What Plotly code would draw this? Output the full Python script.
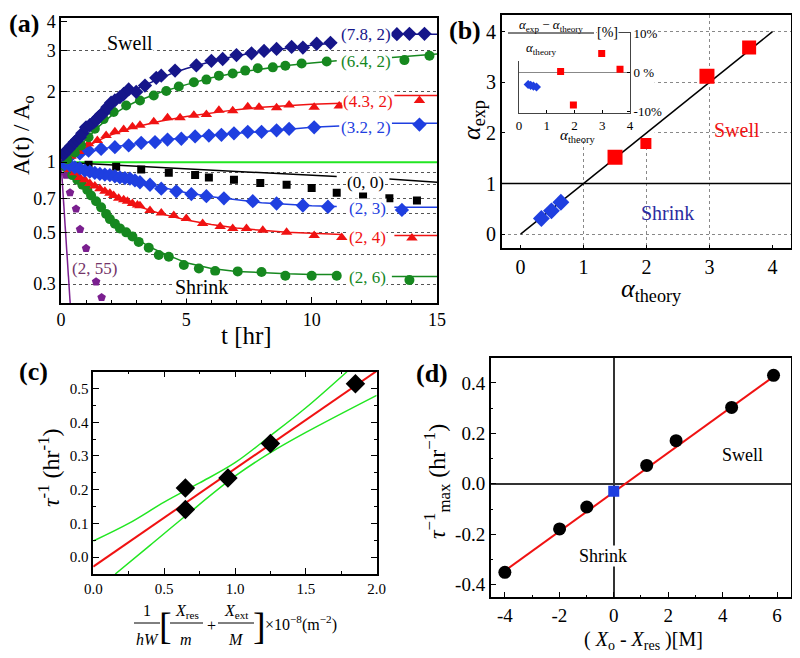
import plotly.graph_objects as go

FONT = "Liberation Serif, DejaVu Serif, Times New Roman, serif"
# the page body adds an 8px margin, so the figure is made that much smaller
OFF = 8
W, H = 800 - OFF, 658 - OFF

NAVY = "#16168a"
GREEN = "#16881f"
RED = "#f01212"
BLUE = "#1f3fe0"
PURPLE = "#7a1f8f"
LIME = "#22e622"

# ---------------- panel (a): A(t)/Ao versus t ----------------
ref_level = [1.0, 1.0]
ref_t = [0, 15]
a_ticks = [0.3, 0.5, 0.7, 1, 2, 3, 4]
a_grid = [0.3, 0.4, 0.5, 0.6, 0.7, 0.8, 0.9, 2, 3]

t_78 = [0.1, 0.2, 0.3, 0.4, 0.55, 0.65, 0.75, 0.85, 1.0, 1.15, 1.3, 1.4, 1.5, 1.6, 1.7, 1.85, 2.0,
        2.15, 2.35, 2.5, 2.7, 3.0, 3.35, 3.8, 4.0, 4.55, 5.4, 6.0, 6.45, 7.0, 7.6, 8.1, 8.6, 9.2,
        9.65, 10.2, 10.75, 13.4, 13.9, 14.5]
a_78 = [1.08, 1.11, 1.14, 1.17, 1.22, 1.25, 1.28, 1.33, 1.41, 1.44, 1.48, 1.52, 1.56, 1.6, 1.63,
        1.72, 1.8, 1.84, 1.9, 1.96, 2.05, 2.0, 2.13, 2.3, 2.35, 2.47, 2.6, 2.72, 2.77, 2.88, 2.93,
        3.0, 3.06, 3.12, 3.1, 3.22, 3.25, 3.54, 3.55, 3.55]
fit_t_78 = [0, 0.25, 0.5, 1, 1.5, 2, 2.5, 3, 3.5, 4, 4.5, 5, 6, 7, 8, 9, 10, 11, None, 13.2, 15]
fit_a_78 = [1.0, 1.1, 1.2, 1.4, 1.6, 1.78, 1.93, 2.06, 2.18, 2.3, 2.42, 2.52, 2.7, 2.86, 2.98,
            3.08, 3.17, 3.25, None, 3.54, 3.54]

t_64 = [0.25, 0.55, 0.8, 1.1, 1.35, 1.7, 2.1, 2.6, 3.15, 3.7, 4.2, 4.7, 5.3, 5.8, 6.3, 6.85, 7.35,
        7.85, 8.45, 8.95, 9.6, 10.6, 13.7, 14.7]
a_64 = [1.03, 1.1, 1.18, 1.28, 1.39, 1.53, 1.64, 1.75, 1.84, 1.93, 2.02, 2.11, 2.2, 2.26, 2.35,
        2.4, 2.47, 2.53, 2.55, 2.59, 2.65, 2.7, 2.74, 2.86]
fit_t_64 = [0, 0.5, 1, 1.5, 2, 2.5, 3, 4, 5, 6, 7, 8, 9, 10, 11, None, 13.2, 15]
fit_a_64 = [1.0, 1.1, 1.25, 1.42, 1.58, 1.71, 1.82, 2.0, 2.15, 2.3, 2.42, 2.51, 2.6, 2.66, 2.72,
            None, 2.81, 2.91]

t_43 = [0.15, 0.4, 0.7, 1.1, 1.45, 1.8, 2.15, 2.5, 2.85, 3.15, 3.7, 4.25, 4.75, 5.3, 5.8, 6.3,
        6.85, 7.45, 7.9, 8.6, 9.1, 10.1, 11.1, 14.3]
a_43 = [1.02, 1.06, 1.11, 1.2, 1.24, 1.3, 1.35, 1.38, 1.42, 1.44, 1.49, 1.55, 1.55, 1.59, 1.6,
        1.67, 1.66, 1.73, 1.72, 1.71, 1.76, 1.72, 1.74, 1.84]
fit_t_43 = [0, 0.5, 1, 1.5, 2, 3, 4, 5, 6, 7, 8, 9, 10, 11.2, None, 13.3, 15]
fit_a_43 = [1.0, 1.08, 1.16, 1.24, 1.31, 1.42, 1.5, 1.57, 1.63, 1.68, 1.72, 1.75, 1.77, 1.79,
            None, 1.93, 1.93]

t_32 = [0.15, 0.45, 0.75, 1.1, 1.6, 2.15, 2.7, 3.2, 3.75, 4.25, 4.8, 5.35, 5.9, 6.4, 6.9, 7.45,
        8.0, 8.6, 9.1, 10.1, 14.3]
a_32 = [1.03, 1.08, 1.09, 1.12, 1.14, 1.16, 1.18, 1.21, 1.22, 1.25, 1.26, 1.29, 1.3, 1.31, 1.33,
        1.35, 1.35, 1.37, 1.39, 1.41, 1.45]
fit_t_32 = [0, 0.5, 1, 2, 3, 4, 5, 6, 7, 8, 9, 10, 11.1, None, 13.2, 15]
fit_a_32 = [1.0, 1.07, 1.1, 1.16, 1.2, 1.24, 1.28, 1.3, 1.33, 1.35, 1.38, 1.41, 1.43, None, 1.47, 1.47]

t_00 = [1.1, 2.2, 3.2, 4.3, 5.35, 5.9, 6.9, 7.95, 9.0, 10.0, 11.0, 12.05, 13.1, 14.2]
a_00 = [0.975, 0.955, 0.93, 0.9, 0.88, 0.86, 0.84, 0.815, 0.8, 0.775, 0.74, 0.72, 0.7, 0.685]
fit_t_00 = [0, 11, None, 13.1, 15]
fit_a_00 = [1.0, 0.867, None, 0.847, 0.82]

t_23 = [0.15, 0.35, 0.55, 0.75, 0.95, 1.15, 1.35, 1.55, 1.75, 1.95, 2.15, 2.35, 2.55, 2.75, 2.95,
        3.15, 3.55, 4.0, 4.6, 5.2, 5.8, 6.5, 7.65, 8.6, 9.65, 10.65, 13.6]
a_23 = [0.98, 0.97, 0.95, 0.94, 0.92, 0.91, 0.9, 0.89, 0.885, 0.88, 0.87, 0.86, 0.855, 0.85,
        0.835, 0.82, 0.8, 0.77, 0.75, 0.73, 0.715, 0.7, 0.68, 0.665, 0.652, 0.644, 0.624]
fit_t_23 = [0, 0.5, 1, 2, 3, 4, 5, 6, 7, 8, 9, 10, 11, None, 13.3, 15]
fit_a_23 = [1.0, 0.95, 0.92, 0.87, 0.825, 0.78, 0.74, 0.71, 0.69, 0.67, 0.66, 0.65, 0.645, None,
            0.64, 0.64]

t_24 = [0.15, 0.35, 0.55, 0.75, 0.95, 1.15, 1.35, 1.55, 1.75, 1.95, 2.1, 2.3, 2.5, 2.65, 2.85,
        3.05, 3.15, 3.55, 4.0, 4.5, 5.0, 5.65, 6.35, 6.85, 7.4, 8.05, 9.0, 10.1, 11.2, 14.0]
a_24 = [0.97, 0.93, 0.9, 0.86, 0.84, 0.81, 0.79, 0.77, 0.75, 0.735, 0.72, 0.7, 0.69, 0.68, 0.665,
        0.655, 0.65, 0.62, 0.606, 0.59, 0.574, 0.546, 0.53, 0.52, 0.52, 0.51, 0.5, 0.485, 0.475,
        0.473]
fit_t_24 = [0, 0.5, 1, 1.5, 2, 2.5, 3, 4, 5, 6, 7, 8, 9, 10, 11.2, None, 13.3, 15]
fit_a_24 = [1.0, 0.9, 0.83, 0.77, 0.72, 0.68, 0.65, 0.6, 0.565, 0.54, 0.522, 0.51, 0.5, 0.495,
            0.49, None, 0.485, 0.485]

t_26 = [0.2, 0.45, 0.65, 0.85, 1.05, 1.2, 1.4, 1.6, 1.8, 1.95, 2.15, 2.35, 2.6, 2.85, 3.1, 3.5,
        3.9, 4.3, 4.9, 5.5, 6.15, 7.05, 8.0, 8.95, 10.0, 11.0, 13.9]
a_26 = [0.95, 0.88, 0.84, 0.8, 0.76, 0.72, 0.68, 0.64, 0.6, 0.57, 0.545, 0.52, 0.5, 0.48, 0.455,
        0.43, 0.4, 0.393, 0.362, 0.35, 0.341, 0.34, 0.338, 0.326, 0.326, 0.326, 0.312]
fit_t_26 = [0, 0.5, 1, 1.5, 2, 2.5, 3, 3.5, 4, 5, 6, 7, 8, 9, 10, 11, None, 13.2, 15]
fit_a_26 = [1.0, 0.87, 0.76, 0.66, 0.58, 0.52, 0.47, 0.435, 0.41, 0.37, 0.35, 0.34, 0.335, 0.332,
            0.33, 0.33, None, 0.323, 0.323]

t_255 = [0.2, 0.36, 0.6, 0.76, 1.0, 1.4, 1.62]
a_255 = [0.88, 0.74, 0.63, 0.515, 0.427, 0.307, 0.263]
fit_t_255 = [0, 0.37]
fit_a_255 = [1.0, 0.245]

# ---------------- panel (b): alpha_exp versus alpha_theory ----------------
b_diag = [0, 4]
b_shrink_x = [0.33, 0.49, 0.64]
b_shrink_y = [0.31, 0.46, 0.63]
b_swell_x = [1.5, 1.99, 2.96, 3.63]
b_swell_y = [1.52, 1.79, 3.12, 3.69]

# inset: relative deviation [%]
ins_shrink_x = [0.33, 0.42, 0.52, 0.63]
ins_shrink_y = [-3.1, -3.3, -3.5, -3.7]
ins_swell_x = [1.5, 1.96, 2.98, 3.64]
ins_swell_y = [0.2, -8.3, 4.8, 0.8]

# ---------------- panel (c): tau^-1 versus geometric factor ----------------
c_x = [0.65, 0.65, 0.95, 1.25, 1.85]
c_y = [0.205, 0.141, 0.235, 0.337, 0.514]
c_fit_x = [0, 2]
c_fit_y = [-0.028, 0.552]
c_up_x = [0, 0.25, 0.5, 0.75, 1.0, 1.25, 1.5, 1.79]
c_up_y = [0.048, 0.1, 0.163, 0.22, 0.28, 0.36, 0.443, 0.55]
c_lo_x = [0.155, 0.4, 0.65, 1.0, 1.25, 1.5, 2.0]
c_lo_y = [-0.05, 0.035, 0.122, 0.24, 0.31, 0.37, 0.48]

# ---------------- panel (d): tau_max^-1 versus (Xo - Xres) ----------------
d_x = [-4, -1.99, -0.99, 1.21, 2.29, 4.33, 5.87]
d_y = [-0.351, -0.179, -0.092, 0.073, 0.171, 0.303, 0.43]
d_zero_x = [0]
d_zero_y = [-0.03]
d_fit_x = [-4, 5.87]
d_fit_y = [-0.345, 0.425]


def px(x):
    return (x - OFF) / W


def py(y):
    return 1 - (y - OFF) / H


fig = go.Figure()

# (a)
fig.add_trace(go.Scatter(x=ref_t, y=ref_level, mode="lines", line=dict(color=LIME, width=2),
                         xaxis="x", yaxis="y"))
a_series = [
    (fit_t_255, fit_a_255, t_255, a_255, PURPLE, "pentagon", 9),
    (fit_t_00, fit_a_00, t_00, a_00, "black", "square", 8),
    (fit_t_26, fit_a_26, t_26, a_26, GREEN, "circle", 10),
    (fit_t_24, fit_a_24, t_24, a_24, RED, "triangle-up", 10),
    (fit_t_23, fit_a_23, t_23, a_23, BLUE, "diamond", 11),
    (fit_t_32, fit_a_32, t_32, a_32, BLUE, "diamond", 11),
    (fit_t_43, fit_a_43, t_43, a_43, RED, "triangle-up", 10),
    (fit_t_64, fit_a_64, t_64, a_64, GREEN, "circle", 10),
    (fit_t_78, fit_a_78, t_78, a_78, NAVY, "diamond", 11),
]
for ft, fa, t, a, col, sym, sz in a_series:
    fig.add_trace(go.Scatter(x=ft, y=fa, mode="lines", line=dict(color=col, width=1.5),
                             xaxis="x", yaxis="y"))
    fig.add_trace(go.Scatter(x=t, y=a, mode="markers",
                             marker=dict(color=col, symbol=sym, size=sz, opacity=1, line=dict(width=0)),
                             xaxis="x", yaxis="y"))

# (b)
fig.add_trace(go.Scatter(x=b_diag, y=b_diag, mode="lines", line=dict(color="black", width=1.5),
                         xaxis="x2", yaxis="y2"))
fig.add_trace(go.Scatter(x=b_shrink_x, y=b_shrink_y, mode="markers",
                         marker=dict(color=BLUE, symbol="diamond", size=13, opacity=1, line=dict(width=0)),
                         xaxis="x2", yaxis="y2"))
fig.add_trace(go.Scatter(x=b_swell_x, y=b_swell_y, mode="markers",
                         marker=dict(color="#ff0000", symbol="square", size=[15, 11, 15, 14],
                                     opacity=1, line=dict(width=0)),
                         xaxis="x2", yaxis="y2"))
fig.add_trace(go.Scatter(x=ins_shrink_x, y=ins_shrink_y, mode="markers",
                         marker=dict(color=BLUE, symbol="diamond", size=7, opacity=1), xaxis="x3", yaxis="y3"))
fig.add_trace(go.Scatter(x=ins_swell_x, y=ins_swell_y, mode="markers",
                         marker=dict(color="#ff0000", symbol="square", size=7, opacity=1),
                         xaxis="x3", yaxis="y3"))

# (c)
for bx, by in [(c_up_x, c_up_y), (c_lo_x, c_lo_y)]:
    fig.add_trace(go.Scatter(x=bx, y=by, mode="lines", line=dict(color=LIME, width=1.5, shape="spline"),
                             xaxis="x4", yaxis="y4"))
fig.add_trace(go.Scatter(x=c_fit_x, y=c_fit_y, mode="lines", line=dict(color=RED, width=2),
                         xaxis="x4", yaxis="y4"))
fig.add_trace(go.Scatter(x=c_x, y=c_y, mode="markers",
                         marker=dict(color="black", symbol="diamond", size=15, opacity=1),
                         xaxis="x4", yaxis="y4"))

# (d)
fig.add_trace(go.Scatter(x=d_fit_x, y=d_fit_y, mode="lines", line=dict(color=RED, width=2),
                         xaxis="x5", yaxis="y5"))
fig.add_trace(go.Scatter(x=d_x, y=d_y, mode="markers", marker=dict(color="black", size=13, opacity=1),
                         xaxis="x5", yaxis="y5"))
fig.add_trace(go.Scatter(x=d_zero_x, y=d_zero_y, mode="markers",
                         marker=dict(color=BLUE, symbol="square", size=11, opacity=1), xaxis="x5", yaxis="y5"))


def frame(size=18, **kw):
    base = dict(showline=True, linecolor="black", linewidth=1.5, mirror=True,
                ticks="inside", ticklen=6, tickwidth=1.2, tickcolor="black",
                showgrid=False, zeroline=False, fixedrange=True, automargin=False,
                tickfont=dict(family=FONT, size=size, color="black"))
    base.update(kw)
    return base


dotgrid = dict(showgrid=True, griddash="dot", gridcolor="#555", gridwidth=1)

fig.update_layout(
    width=W, height=H, autosize=False, showlegend=False,
    margin=dict(l=0, r=0, t=0, b=0, pad=0),
    paper_bgcolor="white", plot_bgcolor="white",
    font=dict(family=FONT, color="black"),
    xaxis=frame(domain=[px(61), px(437)], anchor="y", range=[0, 15], tickvals=[0, 5, 10, 15],
                minor=dict(dtick=1, ticks="inside", ticklen=3)),
    yaxis=frame(domain=[py(303), py(18.3)], anchor="x", type="log", range=[-0.604, 0.617],
                tickvals=a_ticks, ticktext=[str(v) for v in a_ticks],
                minor=dict(tickvals=a_grid, ticks="inside", ticklen=3, **dotgrid)),
    xaxis2=frame(size=20, domain=[px(501.7), px(790.7)], anchor="y2", range=[-0.3, 4.29],
                 tickvals=[0, 1, 2, 3, 4], ticklen=4,
                 minor=dict(tickvals=[1, 2, 3], ticks="", showgrid=True, griddash="dot",
                            gridcolor="#888", gridwidth=1)),
    yaxis2=frame(size=20, domain=[py(248.3), py(15)], anchor="x2", range=[-0.28, 4.33],
                 tickvals=[0, 1, 2, 3, 4], ticklen=4,
                 minor=dict(tickvals=[0, 2, 3, 4], ticks="", showgrid=True, griddash="dot",
                            gridcolor="#888", gridwidth=1)),
    xaxis3=frame(size=13, domain=[px(519), px(630)], anchor="y3", range=[0, 4], linewidth=1,
                 linecolor="#444", tickvals=[0, 1, 2, 3, 4], ticklen=3),
    yaxis3=frame(size=13, domain=[py(113.3), py(33)], anchor="x3", range=[-10.4, 10], side="right",
                 linewidth=1, linecolor="#444", tickvals=[-10, 0, 10],
                 ticktext=["-10%", "0 %", "10%"], ticklen=3,
                 zeroline=True, zerolinecolor="#888", zerolinewidth=1),
    xaxis4=frame(size=15, domain=[px(93.3), px(376.7)], anchor="y4", range=[0, 2],
                 tickvals=[0, 0.5, 1, 1.5, 2], ticktext=["0.0", "0.5", "1.0", "1.5", "2.0"],
                 mirror="allticks", minor=dict(dtick=0.25, ticks="inside", ticklen=3)),
    yaxis4=frame(size=15, domain=[py(574), py(371.7)], anchor="x4", range=[-0.05, 0.55],
                 tickvals=[0, 0.1, 0.2, 0.3, 0.4, 0.5], tickformat=".1f", mirror="allticks",
                 minor=dict(dtick=0.05, tick0=0, ticks="inside", ticklen=3)),
    xaxis5=frame(size=19, domain=[px(490.7), px(790.7)], anchor="y5", range=[-4.52, 6.5],
                 tickvals=[-4, -2, 0, 2, 4, 6], ticktext=["-4", "-2", "0", "2", "4", "6"],
                 zeroline=True, zerolinecolor="#333", zerolinewidth=1.5,
                 minor=dict(dtick=1, tick0=0, ticks="inside", ticklen=3)),
    yaxis5=frame(size=19, domain=[py(597.3), py(357.7)], anchor="x5", range=[-0.45, 0.5],
                 tickvals=[-0.4, -0.2, 0, 0.2, 0.4], ticktext=["-0.4", "-0.2", "0.0", "0.2", "0.4"],
                 zeroline=True, zerolinecolor="#333", zerolinewidth=1.5,
                 minor=dict(dtick=0.1, tick0=0, ticks="inside", ticklen=3)),
)

# white backing for the inset in (b), above gridlines and below markers
fig.add_shape(type="rect", xref="x2", yref="y2", x0=-0.3, x1=2.13, y0=1.86, y1=4.33,
              fillcolor="white", line=dict(width=0), layer="between")
fig.add_shape(type="line", xref="x2 domain", yref="y2", x0=0, x1=1, y0=1, y1=1,
              line=dict(color="black", width=1.5))
# inset title block
fig.add_shape(type="rect", xref="paper", yref="paper", x0=px(505), x1=px(596), y0=py(61), y1=py(17),
              fillcolor="white", line=dict(width=0), layer="above")

# fraction bars
for x0, x1, y in [(508, 594, 33), (134, 160, 623), (170, 203, 623), (218, 254, 623)]:
    fig.add_shape(type="line", xref="paper", yref="paper", x0=px(x0), x1=px(x1), y0=py(y), y1=py(y),
                  line=dict(color="black", width=1), layer="above")


def note(text, x, y, size=17, color="black", bg=None, angle=0, anchor="center"):
    d = dict(text=text, x=px(x), y=py(y), xref="paper", yref="paper", showarrow=False,
             font=dict(family=FONT, size=size, color=color), xanchor=anchor, yanchor="middle",
             textangle=angle)
    if bg:
        d.update(bgcolor=bg, borderpad=0)
    fig.add_annotation(**d)


# (a) labels
note("<b>(a)</b>", 24, 23, size=26)
note("Swell", 130, 43, size=20, bg="white")
note("Shrink", 201, 287, size=20, bg="white")
note("(7.8, 2)", 366, 35, color=NAVY, bg="white")
note("(6.4, 2)", 366, 62, color=GREEN, bg="white")
note("(4.3, 2)", 368, 102, color=RED, bg="white")
note("(3.2, 2)", 366, 127, color=BLUE, bg="white")
note("(0, 0)", 365, 183, color="black", bg="white")
note("(2, 3)", 367, 208, color=BLUE, bg="white")
note("(2, 4)", 367, 237, color=RED, bg="white")
note("(2, 6)", 367, 277, color=GREEN, bg="white")
note("(2, 55)", 94, 268, color="#743468")
note("A(t) / A<sub>o</sub>", 23, 135, size=23, angle=-90)
note("t [hr]", 247, 335, size=25)

# (b) labels
note("<b>(b)</b>", 465, 31, size=26)
note("<i>α</i><sub>exp</sub>", 473, 120, size=26, angle=-90)
note("<i>α</i><sub>theory</sub>", 651, 290, size=26)
note("Swell", 737, 130, size=20, color=RED)
note("Shrink", 667, 213, size=20, color="#2b2ba0")
note("<i>α</i><sub>exp</sub> − <i>α</i><sub>theory</sub>", 551, 25, size=13)
note("<i>α</i><sub>theory</sub>", 541, 48, size=13)
note("[%]", 607, 32, size=14, bg="white")
note("<i>α</i><sub>theory</sub>", 577, 136, size=15)

# (c) labels
note("<b>(c)</b>", 33, 371, size=26)
note("<i>τ</i><sup>-1</sup> (hr<sup>-1</sup>)", 49, 468, size=24, angle=-90)
note("1", 147, 610, size=16)
note("<i>hW</i>", 147, 639, size=16)
note("[", 165, 626, size=38)
note("<i>X</i><sub>res</sub>", 187, 611, size=16)
note("<i>m</i>", 186, 639, size=16)
note("+", 211, 625, size=16)
note("<i>X</i><sub>ext</sub>", 236, 611, size=16)
note("<i>M</i>", 236, 639, size=16)
note("]", 259, 626, size=38)
note("×10<sup>−8</sup>(m<sup>−2</sup>)", 263, 623, size=16, anchor="left")

# (d) labels
note("<b>(d)</b>", 432, 373, size=26)
note("<i>τ</i><sup>−1</sup><sub>max</sub> (hr<sup>−1</sup>)", 437, 481, size=24, angle=-90)
note("( <i>X</i><sub>o</sub> - <i>X</i><sub>res</sub> )[M]", 643, 640, size=20)
note("Swell", 742, 455, size=18)
note("Shrink", 603, 556, size=18, bg="white")

fig.write_html("out.html")
